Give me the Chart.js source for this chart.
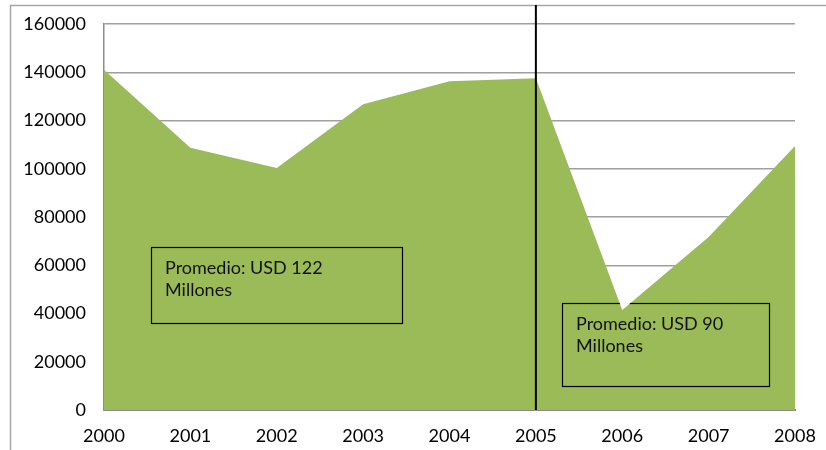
<!DOCTYPE html>
<html>
<head>
<meta charset="utf-8">
<script src="https://cdn.jsdelivr.net/npm/chart.js@4/dist/chart.umd.min.js"></script>
<style>
html,body{margin:0;padding:0;background:#fff;}
#wrap{width:826px;height:450px;position:relative;}
</style>
</head>
<body>
<div id="wrap"><canvas id="c" width="826" height="450"></canvas></div>
<script>
const years = ["2000","2001","2002","2003","2004","2005","2006","2007","2008"];
const values = [141000, 108700, 100300, 126700, 136300, 137500, 41400, 71700, 109400];
const yTicks = [0, 20000, 40000, 60000, 80000, 100000, 120000, 140000, 160000];
const note1 = ["Promedio: USD 122", "Millones"];
const note2 = ["Promedio: USD 90", "Millones"];
const splitYear = "2005";

const FONT = "Lato, 'Open Sans', sans-serif";

const decor = {
  id: 'decor',
  beforeDraw(chart) {
    const ctx = chart.ctx;
    ctx.save();
    ctx.strokeStyle = '#a6a6a6';
    ctx.lineWidth = 1.5;
    ctx.beginPath();
    ctx.moveTo(10.5, 450);
    ctx.lineTo(10.5, 5.5);
    ctx.lineTo(826, 5.5);
    ctx.stroke();
    ctx.restore();
  },
  afterDatasetsDraw(chart) {
    const ctx = chart.ctx;
    const xs = chart.scales.x, ys = chart.scales.y;
    const pts = chart.getDatasetMeta(0).data;
    const y0 = ys.getPixelForValue(0);
    ctx.save();
    // clip to the filled area so the notes sit inside the green
    ctx.beginPath();
    ctx.moveTo(pts[0].x, y0);
    pts.forEach(p => ctx.lineTo(p.x, p.y));
    ctx.lineTo(pts[pts.length - 1].x, y0);
    ctx.closePath();
    ctx.clip();
    function box(x, y, w, h, lines) {
      ctx.strokeStyle = '#000';
      ctx.lineWidth = 1.2;
      ctx.strokeRect(x + 0.5, y + 0.5, w, h);
      ctx.fillStyle = '#111';
      ctx.font = '18px ' + FONT;
      ctx.textBaseline = 'middle';
      ctx.textAlign = 'left';
      lines.forEach((t, i) => ctx.fillText(t, x + 14, y + 21 + i * 22));
    }
    box(151, 247, 251, 76, note1);
    box(562, 303, 207, 83, note2);
    ctx.restore();
    ctx.save();
    // vertical split line
    const vx = xs.getPixelForValue(years.indexOf(splitYear));
    ctx.strokeStyle = '#000';
    ctx.lineWidth = 2;
    ctx.beginPath();
    ctx.moveTo(vx, 5);
    ctx.lineTo(vx, y0);
    ctx.stroke();
    ctx.restore();
  }
};

new Chart(document.getElementById('c'), {
  type: 'line',
  data: {
    labels: years,
    datasets: [{
      data: values,
      fill: 'origin',
      backgroundColor: '#9BBB59',
      borderWidth: 0,
      borderColor: '#9BBB59',
      pointRadius: 0,
      tension: 0
    }]
  },
  options: {
    responsive: false,
    animation: false,
    events: [],
    layout: { padding: { left: 10, right: 31, top: 24, bottom: 0 } },
    plugins: { legend: { display: false }, tooltip: { enabled: false } },
    scales: {
      x: {
        type: 'category',
        offset: false,
        grid: { display: false, drawTicks: false },
        border: { display: true, color: '#8c8c8c', width: 2 },
        ticks: { color: '#000', font: { family: FONT, size: 18 }, padding: 15, maxRotation: 0, autoSkip: false },
        afterFit(s) { s.height = 40; s.paddingLeft = 0; s.paddingRight = 0; }
      },
      y: {
        min: 0, max: 160000,
        afterBuildTicks(s) { s.ticks = yTicks.map(v => ({ value: v })); },
        grid: { color: '#a0a0a0', lineWidth: 1.5, drawTicks: false },
        border: { display: true, color: '#8c8c8c', width: 1.5 },
        ticks: { color: '#000', font: { family: FONT, size: 18 }, padding: 18, callback: v => String(v) },
        afterFit(s) { s.width = 94; s.paddingTop = 0; s.paddingBottom = 0; }
      }
    }
  },
  plugins: [decor]
});
</script>
</body>
</html>
